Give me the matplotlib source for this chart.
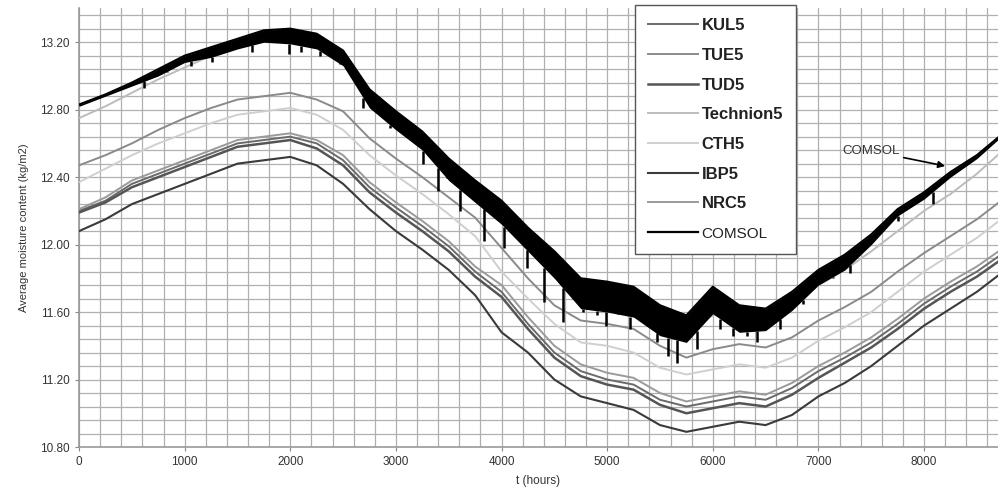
# -*- coding: utf-8 -*-
# moisture content over one year, 7 simulation tools + COMSOL
import matplotlib
matplotlib.use('Agg')
import matplotlib.pyplot as plt
from matplotlib.ticker import MultipleLocator, FormatStrFormatter
import numpy as np

plt.rcParams['font.family'] = ['Liberation Sans', 'DejaVu Sans']

# time axis (hours), read every 250 h
hours = np.arange(0, 9000, 250)

IBP5 = [12.08, 12.15, 12.24, 12.30, 12.36, 12.42, 12.48, 12.50, 12.52, 12.47,
        12.36, 12.21, 12.08, 11.97, 11.85, 11.70, 11.48, 11.36, 11.20, 11.10,
        11.06, 11.02, 10.93, 10.89, 10.92, 10.95, 10.93, 10.99, 11.10, 11.18,
        11.28, 11.40, 11.52, 11.62, 11.72, 11.84]
KUL5 = [12.20, 12.26, 12.36, 12.42, 12.48, 12.54, 12.60, 12.62, 12.64, 12.60,
        12.50, 12.34, 12.22, 12.11, 11.99, 11.84, 11.72, 11.53, 11.36, 11.25,
        11.20, 11.17, 11.08, 11.04, 11.07, 11.10, 11.08, 11.15, 11.25, 11.33,
        11.42, 11.53, 11.65, 11.75, 11.84, 11.95]
TUD5 = [12.19, 12.25, 12.34, 12.40, 12.46, 12.52, 12.58, 12.60, 12.62, 12.57,
        12.47, 12.31, 12.19, 12.08, 11.96, 11.81, 11.69, 11.50, 11.33, 11.22,
        11.17, 11.14, 11.05, 11.00, 11.03, 11.06, 11.04, 11.11, 11.21, 11.30,
        11.39, 11.50, 11.62, 11.72, 11.81, 11.92]
NRC5 = [12.21, 12.28, 12.38, 12.44, 12.50, 12.56, 12.62, 12.64, 12.66, 12.62,
        12.53, 12.37, 12.25, 12.14, 12.02, 11.87, 11.76, 11.57, 11.40, 11.29,
        11.24, 11.21, 11.12, 11.07, 11.10, 11.13, 11.11, 11.18, 11.28, 11.36,
        11.45, 11.56, 11.68, 11.78, 11.87, 11.98]
CTH5 = [12.37, 12.45, 12.53, 12.60, 12.66, 12.72, 12.77, 12.79, 12.81, 12.77,
        12.68, 12.53, 12.41, 12.30, 12.18, 12.05, 11.84, 11.68, 11.53, 11.42,
        11.40, 11.36, 11.27, 11.23, 11.26, 11.29, 11.27, 11.33, 11.43, 11.51,
        11.60, 11.72, 11.84, 11.94, 12.04, 12.16]
TUE5 = [12.47, 12.53, 12.60, 12.68, 12.75, 12.81, 12.86, 12.88, 12.90, 12.86,
        12.79, 12.63, 12.51, 12.40, 12.28, 12.16, 11.98, 11.80, 11.64, 11.55,
        11.53, 11.50, 11.40, 11.33, 11.38, 11.41, 11.39, 11.45, 11.55, 11.63,
        11.72, 11.84, 11.95, 12.05, 12.15, 12.27]
Technion5 = [12.75, 12.82, 12.90, 12.98, 13.05, 13.12, 13.18, 13.22, 13.24, 13.20,
             13.10, 12.90, 12.75, 12.62, 12.48, 12.34, 12.20, 12.02, 11.88, 11.76,
             11.72, 11.68, 11.58, 11.50, 11.58, 11.60, 11.58, 11.64, 11.76, 11.85,
             11.96, 12.08, 12.20, 12.30, 12.42, 12.56]
# COMSOL: upper edge and lower edge of the dense black part
COMSOL = [12.83, 12.89, 12.96, 13.04, 13.12, 13.17, 13.22, 13.27, 13.28, 13.25,
          13.15, 12.92, 12.79, 12.67, 12.51, 12.38, 12.26, 12.10, 11.96, 11.80,
          11.78, 11.75, 11.64, 11.58, 11.75, 11.64, 11.62, 11.72, 11.85, 11.94,
          12.06, 12.21, 12.31, 12.43, 12.53, 12.66]
COMSOL_low = [12.82, 12.88, 12.94, 13.00, 13.08, 13.11, 13.16, 13.20, 13.19, 13.16,
              13.06, 12.81, 12.68, 12.56, 12.38, 12.25, 12.12, 11.96, 11.80, 11.62,
              11.60, 11.57, 11.46, 11.42, 11.59, 11.48, 11.49, 11.61, 11.76, 11.85,
              12.00, 12.17, 12.27, 12.40, 12.51, 12.65]
# downward spikes of the COMSOL curve: time and tip value
spike_hours = [615, 830, 1060, 1260, 1640, 1990, 2100, 2280, 2470, 2690,
               2945, 3040, 3260, 3400, 3480, 3610, 3830, 4020, 4240, 4400,
               4580, 4770, 4900, 4990, 5100, 5220, 5310, 5470, 5580, 5660,
               5850, 6070, 6190, 6320, 6420, 6640, 6730, 6850, 7140, 7300,
               7750, 8080]
spike_tips = [12.93, 13.03, 13.06, 13.08, 13.14, 13.13, 13.14, 13.12, 13.09, 12.81,
              12.69, 12.66, 12.48, 12.32, 12.44, 12.20, 12.02, 11.98, 11.86, 11.66,
              11.54, 11.60, 11.58, 11.52, 11.62, 11.50, 11.54, 11.42, 11.34, 11.30,
              11.38, 11.50, 11.46, 11.46, 11.42, 11.50, 11.60, 11.65, 11.80, 11.83,
              12.14, 12.24]

series = [
    ('KUL5', KUL5, '#6a6a6a', 1.4),
    ('TUE5', TUE5, '#8a8a8a', 1.4),
    ('TUD5', TUD5, '#555555', 1.8),
    ('Technion5', Technion5, '#bcbcbc', 1.4),
    ('CTH5', CTH5, '#cfcfcf', 1.4),
    ('IBP5', IBP5, '#3a3a3a', 1.5),
    ('NRC5', NRC5, '#9a9a9a', 1.4),
]

fig = plt.figure(figsize=(9.98, 4.98), dpi=100)
ax = fig.add_axes([0.0792, 0.1024, 0.9208, 0.8806])

for name, vals, col, lw in series:
    ax.plot(hours, vals, color=col, lw=lw, label=name, zorder=3)

ax.fill_between(hours, COMSOL_low, COMSOL, color='black', lw=0, zorder=4)
ax.vlines(spike_hours, spike_tips, np.interp(spike_hours, hours, COMSOL_low),
          color='black', lw=1.8, zorder=4)
ax.plot(hours, COMSOL, color='black', lw=1.6, label='COMSOL', zorder=5)

ax.set_xlim(0, 8700)
ax.set_ylim(10.80, 13.40)
ax.xaxis.set_major_locator(MultipleLocator(1000))
ax.xaxis.set_minor_locator(MultipleLocator(200))
ax.yaxis.set_major_locator(MultipleLocator(0.4))
ax.yaxis.set_minor_locator(MultipleLocator(0.08))
ax.yaxis.set_major_formatter(FormatStrFormatter('%.2f'))
ax.grid(which='both', color='#b0b0b0', lw=0.9, zorder=0)
ax.set_axisbelow(True)
ax.tick_params(which='minor', length=0)
ax.tick_params(which='major', length=3, color='#888888', labelsize=8.5,
               labelcolor='#333333')
for s in ['top', 'right']:
    ax.spines[s].set_visible(False)
for s in ['left', 'bottom']:
    ax.spines[s].set_color('#999999')
    ax.spines[s].set_linewidth(1.2)

ax.set_xlabel('t (hours)', fontsize=8.5, color='#333333', labelpad=5)
ax.set_ylabel('Average moisture content (kg/m2)', fontsize=8, color='#333333', labelpad=8)

ax.annotate('COMSOL', xy=(8200, 12.466), xytext=(7225, 12.555),
            fontsize=9.5, color='#333333', va='center',
            arrowprops=dict(arrowstyle='-|>', color='black', lw=1.2,
                            mutation_scale=10, shrinkA=1, shrinkB=0))

leg = ax.legend(loc='upper left', bbox_to_anchor=(0.636, 0.99),
                bbox_transform=fig.transFigure, fontsize=12,
                labelspacing=0.88, handlelength=3.0, handletextpad=0.2,
                borderpad=0.8, borderaxespad=0, fancybox=False,
                framealpha=1, edgecolor='#555555')
leg.get_frame().set_linewidth(1.0)
for t in leg.get_texts():
    t.set_fontweight('bold')
    t.set_color('#222222')
leg.get_texts()[-1].set_fontweight('normal')
leg.get_texts()[-1].set_fontsize(11)
leg.set_zorder(10)

plt.savefig('out.png', dpi=100)
